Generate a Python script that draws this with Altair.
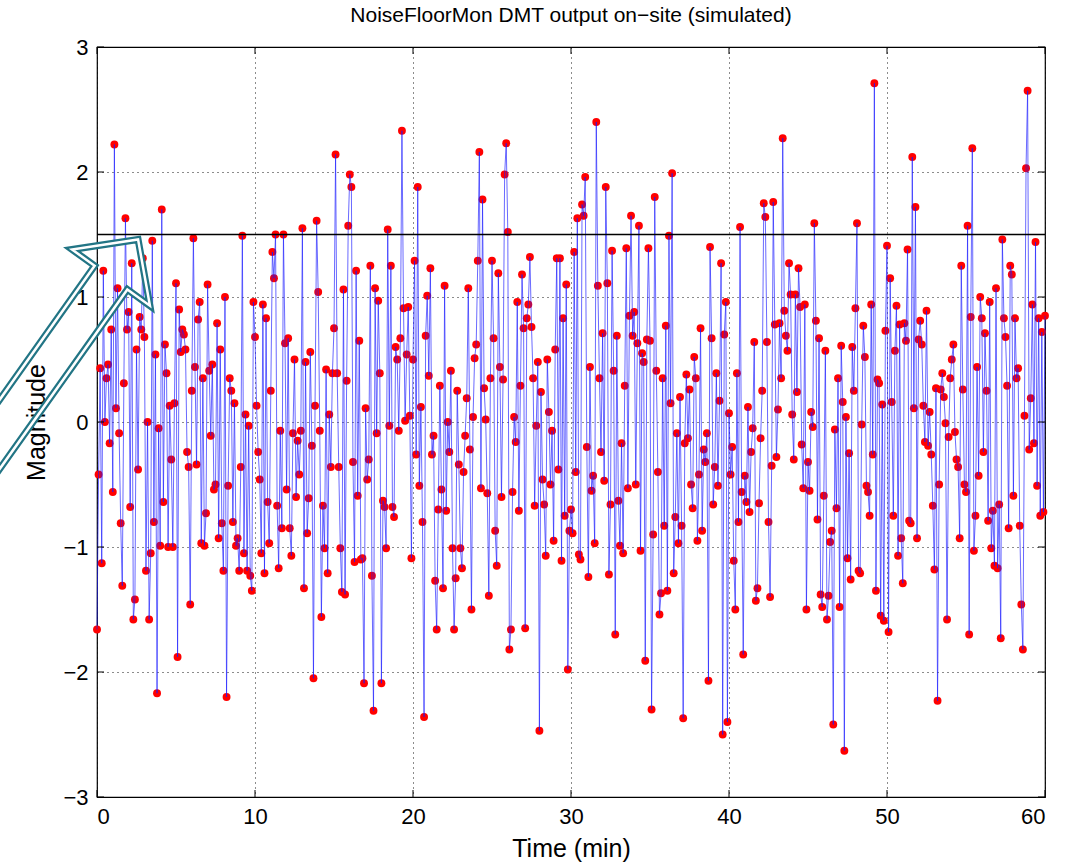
import altair as alt
import pandas as pd

# ---- data (value per 0.1 min, 0 .. 60 min) ----
SEG_00_05 = [-1.66, -0.42, 0.43, -1.13, 1.21, 0.0, 0.35, 0.46, -0.17, 0.74, -0.56, 2.22, 0.11, 1.07, -0.09, -0.81, -1.31, 0.31, 1.63, 0.74, 0.88, -0.68, 1.27, -1.58, -1.42, 0.58, -0.38, 0.84, 0.74, 1.31, 0.68, -1.19, 0.0, -1.58, -1.05, 1.45, -0.8, 0.54, -2.17, -0.05, -0.99, 1.7, -0.64, 0.62, 0.39, -1.0, 0.13, -0.3, -1.0, 0.15]
SEG_05_10 = [1.11, -1.88, 0.9, 0.56, 0.74, 0.7, 0.58, -0.24, -0.36, -1.46, 0.25, 1.47, 0.44, -0.34, 0.82, 0.96, -0.97, 0.35, -0.99, -0.73, 1.1, 0.41, -0.11, 0.46, -0.54, -0.5, 0.79, -0.93, 0.58, -0.81, -1.19, 1.0, -2.2, -0.51, 0.35, 0.25, -0.8, 0.15, -0.99, -0.93, -1.19, -0.36, 1.49, -1.05, 0.06, -1.19, -0.03, -1.23, -1.35, 0.96]
SEG_10_15 = [0.68, 0.13, -0.24, -0.46, -1.05, 0.94, -1.21, 0.83, -0.64, -0.97, 0.25, 1.36, 1.15, 1.5, -0.67, -1.17, -0.07, -0.85, 1.5, 0.63, -0.54, 0.67, -0.85, -1.07, -0.09, 0.5, -0.6, -0.15, -0.42, -0.07, 1.55, -1.33, 0.48, -0.89, -0.61, 0.56, -0.19, -2.05, 0.13, 1.61, 1.04, -0.07, -1.56, -0.67, -1.01, 0.42, -1.21, 0.06, -0.36, 0.39]
SEG_15_20 = [0.75, 2.14, 0.39, -0.36, -1.01, -1.36, 1.06, -1.38, 0.33, 1.57, 1.98, 1.88, -0.32, -1.12, 1.21, -0.59, 0.65, -1.1, -1.09, -2.09, 0.11, -0.46, -0.3, 1.25, -1.23, -2.31, 1.07, -0.09, 0.97, 0.39, -2.09, -0.63, -0.68, -1.01, 1.54, -0.03, 1.25, -0.68, -0.76, 0.6, 0.5, -0.07, 0.67, 2.33, 0.91, 0.01, 0.54, 0.92, 0.05, -1.09]
SEG_20_25 = [0.5, 1.29, -0.26, 1.88, -0.51, 0.12, -0.8, -2.36, 0.69, 1.01, 0.37, 1.23, -0.26, -0.11, -1.27, -1.66, -0.7, 0.29, -0.54, -1.33, 1.09, -0.71, 0.0, -0.24, 0.41, -1.01, -1.66, -1.25, 0.25, -0.34, -1.01, -1.17, -0.4, -0.11, 0.19, 1.07, -0.22, -1.5, 0.04, 0.51, 0.62, 1.29, 2.16, -0.53, 1.78, 0.27, 0.02, -0.57, -1.39, 0.35]
SEG_25_30 = [1.29, 0.67, -0.87, -1.15, 1.19, 0.44, -0.6, 0.34, 1.98, 2.23, 1.52, -1.82, -1.66, -0.56, 0.04, -0.16, 0.96, -0.71, 0.29, 1.18, 0.75, -1.65, 0.83, 0.94, 1.32, 0.76, 0.35, -0.67, -0.03, 0.48, -2.47, 0.24, -0.46, -0.66, -1.07, 0.5, 0.08, -0.5, -0.07, -0.95, 0.58, 1.31, -0.38, 1.31, -1.11, 0.83, -0.75, 1.1, -1.98, -0.87]
SEG_30_35 = [-0.7, -0.89, 1.36, -0.4, 1.63, -1.06, -1.1, 1.74, 1.65, 1.96, -0.2, -1.24, 0.44, -0.55, -0.43, -0.97, 2.4, 1.09, 0.35, -0.24, 0.71, -0.47, 1.88, 1.11, -1.22, -0.66, 1.37, 0.41, -1.7, 0.69, -0.63, -0.99, -0.17, -1.05, 0.29, 1.39, -0.53, 0.85, 1.65, 0.69, 0.88, -0.5, 0.63, 1.57, -1.03, 0.55, 0.48, -1.91, 0.66, 1.39]
SEG_35_40 = [0.65, -2.3, -0.9, 1.8, 0.41, -0.4, -1.54, -1.37, 0.35, -0.83, 0.77, -1.35, 1.49, 0.15, 1.99, -1.21, -0.76, -0.09, -0.97, 0.2, -0.83, -2.37, -0.17, 0.38, -0.13, 0.26, -0.5, -0.69, 0.52, 0.35, -0.95, -0.42, 0.75, -0.87, -0.22, -0.32, -0.09, -2.07, 1.4, 0.67, -0.66, -0.36, 0.39, -0.51, 0.17, 1.27, -2.5, 0.7, 0.96, -2.4]
SEG_40_45 = [0.07, -0.42, -0.2, -1.11, -1.5, 0.39, -0.8, 1.56, -0.56, -1.86, -0.43, -0.64, 0.12, -0.72, -0.24, -0.05, 0.64, -1.43, -1.33, -0.65, -0.13, 0.25, 1.75, 1.64, 0.64, -0.8, -1.4, -0.35, 1.76, 0.78, -0.28, 0.1, 0.79, 0.35, 2.27, 0.89, 0.69, 0.57, 1.27, 1.02, 0.06, -0.3, 1.02, 0.24, 1.23, 0.92, -0.18, -0.53, 0.94, -1.5]
SEG_45_50 = [-0.32, -0.55, 0.08, -0.04, 1.59, 0.81, -0.78, 0.67, -1.38, -1.48, -0.59, 0.57, -1.58, -1.39, -0.96, -0.87, -2.42, -0.06, -0.69, 0.35, -1.48, 0.61, 0.16, -2.63, 0.04, -1.09, -0.25, -1.26, 0.6, 0.25, 0.91, 1.59, -1.19, -1.21, -0.02, 0.77, 0.52, -0.51, -0.56, -0.75, 0.94, -0.26, 2.71, -1.35, 0.34, 0.31, -1.55, 0.14, -1.59, 0.73]
SEG_50_55 = [1.41, -1.68, 1.15, 0.16, -0.75, 0.57, 0.93, -1.07, 0.78, -0.93, -1.29, 0.79, 0.65, 1.38, -0.79, -0.81, 2.12, 0.11, 1.72, -0.93, 0.66, 0.81, 0.62, 0.13, -0.16, 0.89, -0.19, 0.08, -0.26, -0.67, -1.18, 0.27, -2.23, -0.5, 0.26, 0.39, 0.2, -0.01, -1.58, -0.12, 0.35, 0.5, 0.62, -0.08, -0.3, -0.36, -0.93, 1.25, 0.26, -0.5]
SEG_55_60 = [-0.56, 1.57, -1.7, 0.84, 2.19, -1.03, -0.75, 0.44, -0.43, 1.0, 0.83, -0.24, 0.71, 0.25, -0.79, 0.96, -1.01, -0.71, -1.15, 1.07, -1.17, -0.66, -1.73, 1.46, 0.83, 0.68, 0.29, -0.85, 1.25, 1.18, -0.59, 0.83, 0.35, 0.43, -0.83, -1.46, -1.82, 0.05, 2.03, 2.65, -0.22, 0.19, 0.94, -0.17, 1.44, -0.51, 0.83, -0.75, 0.72, -0.72, 0.85]

SAMPLE_MIN = 0.1
X_TICKS = [0, 10, 20, 30, 40, 50, 60]
Y_TICKS = [-3, -2, -1, 0, 1, 2, 3]
THRESHOLD = 1.5

TITLE = "NoiseFloorMon DMT output on\u2212site (simulated)"
X_TITLE = "Time (min)"
Y_TITLE = "Magnitude"

# annotation block-arrow outline (data units, mostly outside the axes)
ARROW_T = [-11.14, -0.15, -1.58, 2.60, 3.35, 1.92, -9.11, -11.14]
ARROW_V = [-0.71, 1.25, 1.38, 1.46, 0.93, 1.06, -0.90, -0.71]

values = (SEG_00_05 + SEG_05_10 + SEG_10_15 + SEG_15_20 + SEG_20_25 + SEG_25_30
          + SEG_30_35 + SEG_35_40 + SEG_40_45 + SEG_45_50 + SEG_50_55 + SEG_55_60)
df = pd.DataFrame({"t": [round(i * SAMPLE_MIN, 1) for i in range(len(values))],
                   "v": values})

W, H = 948, 750
X0, X1 = X_TICKS[0], X_TICKS[-1]
Y0, Y1 = Y_TICKS[0], Y_TICKS[-1]
TICK_PX = 7
tlx = TICK_PX * (X1 - X0) / W
tly = TICK_PX * (Y1 - Y0) / H

FONT = "Liberation Sans"

xscale = alt.Scale(domain=[X0, X1], nice=False, zero=False)
yscale = alt.Scale(domain=[Y0, Y1], nice=False, zero=False)

x_axis = alt.Axis(values=X_TICKS, title=X_TITLE, grid=True, ticks=False, domain=False,
                  labelFontSize=22, labelPadding=9, titleFontSize=25, titlePadding=9,
                  format="d")
y_axis = alt.Axis(values=Y_TICKS, title=Y_TITLE, grid=True, ticks=False, domain=False,
                  labelFontSize=22, labelPadding=9, titleFontSize=25,
                  titleX=-48, titleY=H / 2, format="d")

pts = alt.Chart(df).mark_circle(size=62, color="#ff0000", opacity=1).encode(
    x=alt.X("t:Q", scale=xscale, axis=x_axis),
    y=alt.Y("v:Q", scale=yscale, axis=y_axis),
)
line = alt.Chart(df).mark_line(color="#1a1aff", strokeWidth=1, opacity=0.65).encode(
    x=alt.X("t:Q", scale=xscale),
    y=alt.Y("v:Q", scale=yscale),
)
thr = alt.Chart(pd.DataFrame({"y": [THRESHOLD]})).mark_rule(color="black", strokeWidth=1.4).encode(
    y=alt.Y("y:Q", scale=yscale)
)

xt_rows = []
for xv in X_TICKS:
    xt_rows.append({"x": xv, "y": Y0, "y2": Y0 + tly})
    xt_rows.append({"x": xv, "y": Y1, "y2": Y1 - tly})
yt_rows = []
for yv in Y_TICKS:
    yt_rows.append({"x": X0, "x2": X0 + tlx, "y": yv})
    yt_rows.append({"x": X1, "x2": X1 - tlx, "y": yv})
xticks = alt.Chart(pd.DataFrame(xt_rows)).mark_rule(color="black", strokeWidth=1).encode(
    x=alt.X("x:Q", scale=xscale), y=alt.Y("y:Q", scale=yscale), y2="y2:Q")
yticks = alt.Chart(pd.DataFrame(yt_rows)).mark_rule(color="black", strokeWidth=1).encode(
    x=alt.X("x:Q", scale=xscale), x2="x2:Q", y=alt.Y("y:Q", scale=yscale))

arrow_df = pd.DataFrame({"t": ARROW_T, "v": ARROW_V, "o": list(range(len(ARROW_T)))})
arrow_out = alt.Chart(arrow_df).mark_line(color="#227585", strokeWidth=7, clip=False,
                                          strokeJoin="miter").encode(
    x=alt.X("t:Q", scale=xscale), y=alt.Y("v:Q", scale=yscale), order="o:Q")
arrow_in = alt.Chart(arrow_df).mark_line(color="white", strokeWidth=2.5, clip=False,
                                         strokeJoin="miter").encode(
    x=alt.X("t:Q", scale=xscale), y=alt.Y("v:Q", scale=yscale), order="o:Q")

chart = alt.layer(pts, line, thr, xticks, yticks, arrow_out, arrow_in).properties(
    width=W, height=H,
    title=alt.Title(TITLE, fontSize=21, fontWeight="normal", font=FONT, color="black", offset=10),
    padding={"left": 97, "top": 47, "right": 26, "bottom": 70},
    autosize=alt.AutoSizeParams(type="none"),
    background="white",
).configure_view(stroke="black", strokeWidth=1.2).configure_axis(
    labelFont=FONT, titleFont=FONT, labelColor="black", titleColor="black",
    titleFontWeight="normal", gridColor="black", gridDash=[1, 4], gridWidth=1, gridOpacity=0.9,
)

chart.save("out.html", embed_options={"renderer": "svg", "actions": False})
